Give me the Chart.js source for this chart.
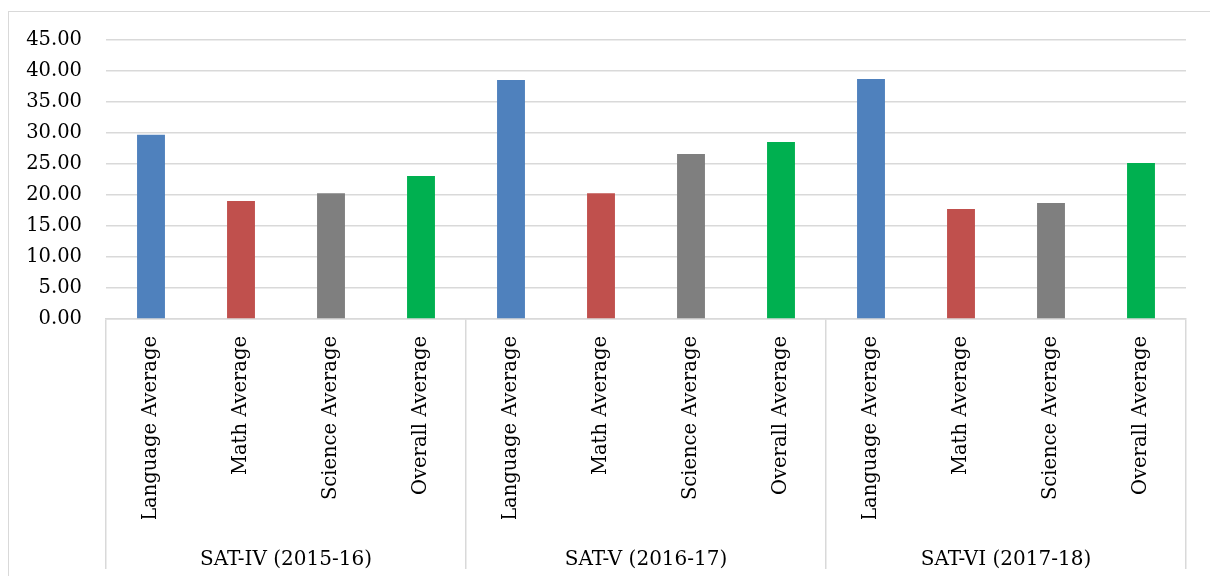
<!DOCTYPE html>
<html lang="en">
<head>
  <meta charset="UTF-8">
  <title>SAT averages</title>
  <script src="https://cdn.jsdelivr.net/npm/chart.js"></script>
  <style>
    body { margin: 0; background: #fff; }
    #wrap { position: relative; width: 1210px; height: 576px; overflow: hidden; }
    #grafico { position: absolute; left: 0; top: 0; }
    .moldura {
      position: absolute; left: 8px; top: 11px; width: 1210px; height: 600px;
      border-left: 1px solid #d9d9d9; border-top: 1px solid #d9d9d9; pointer-events: none;
    }
  </style>
</head>
<body>
  <div id="wrap">
    <canvas id="grafico" width="1210" height="576"></canvas>
    <div class="moldura"></div>
  </div>

  <script>
    const grupos = ["SAT-IV (2015-16)", "SAT-V (2016-17)", "SAT-VI (2017-18)"];
    const materias = ["Language Average", "Math Average", "Science Average", "Overall Average"];
    const cores = ["#4f81bd", "#c0504d", "#7f7f7f", "#00b050"];

    // one value per group
    const languageAvg = [29.70, 38.55, 38.70];
    const mathAvg     = [19.05, 20.30, 17.75];
    const scienceAvg  = [20.30, 26.60, 18.70];
    const overallAvg  = [23.05, 28.55, 25.15];

    const porMateria = [languageAvg, mathAvg, scienceAvg, overallAvg];
    const labels = [], valores = [], fundo = [];
    grupos.forEach((g, gi) => {
      materias.forEach((m, mi) => {
        labels.push(m);
        valores.push(porMateria[mi][gi]);
        fundo.push(cores[mi]);
      });
    });

    const fonte = "'DejaVu Serif', serif";
    const cinza = "#d9d9d9";

    new Chart(document.getElementById("grafico"), {
      type: "bar",
      data: {
        labels: labels,
        datasets: [{ data: valores, backgroundColor: fundo, borderWidth: 0,
                     categoryPercentage: 1, barPercentage: 0.31 }]
      },
      options: {
        responsive: false,
        animation: false,
        layout: { padding: { top: 40, right: 24, left: 0, bottom: 0 } },
        plugins: { legend: { display: false }, tooltip: { enabled: false } },
        scales: {
          y: {
            min: 0, max: 45,
            ticks: { stepSize: 5, padding: 24, color: "#000",
                     font: { family: fonte, size: 19.5 },
                     callback: v => v.toFixed(2) },
            grid: { color: cinza, lineWidth: 1.5, drawTicks: false },
            border: { display: false },
            afterFit: s => { s.width = 106; }
          },
          x: {
            weight: 0,
            offset: true,
            ticks: { autoSkip: false, minRotation: 90, maxRotation: 90, padding: -233,
                     color: "#000", font: { family: fonte, size: 19.5 } },
            grid: {
              offset: true, drawOnChartArea: false, tickLength: 250, lineWidth: 1.5,
              color: ctx => (ctx.index === undefined || ctx.index % 4 === 0) ? cinza : "rgba(0,0,0,0)"
            },
            border: { display: true, color: cinza, width: 1.5 },
            afterFit: s => { s.height = 200; }
          },
          x2: {
            type: "category",
            position: "bottom",
            weight: 1,
            labels: grupos,
            offset: true,
            ticks: { padding: 21, color: "#000", font: { family: fonte, size: 20 } },
            grid: { display: false },
            border: { display: false },
            afterFit: s => { s.height = 57; }
          }
        }
      }
    });
  </script>
</body>
</html>
